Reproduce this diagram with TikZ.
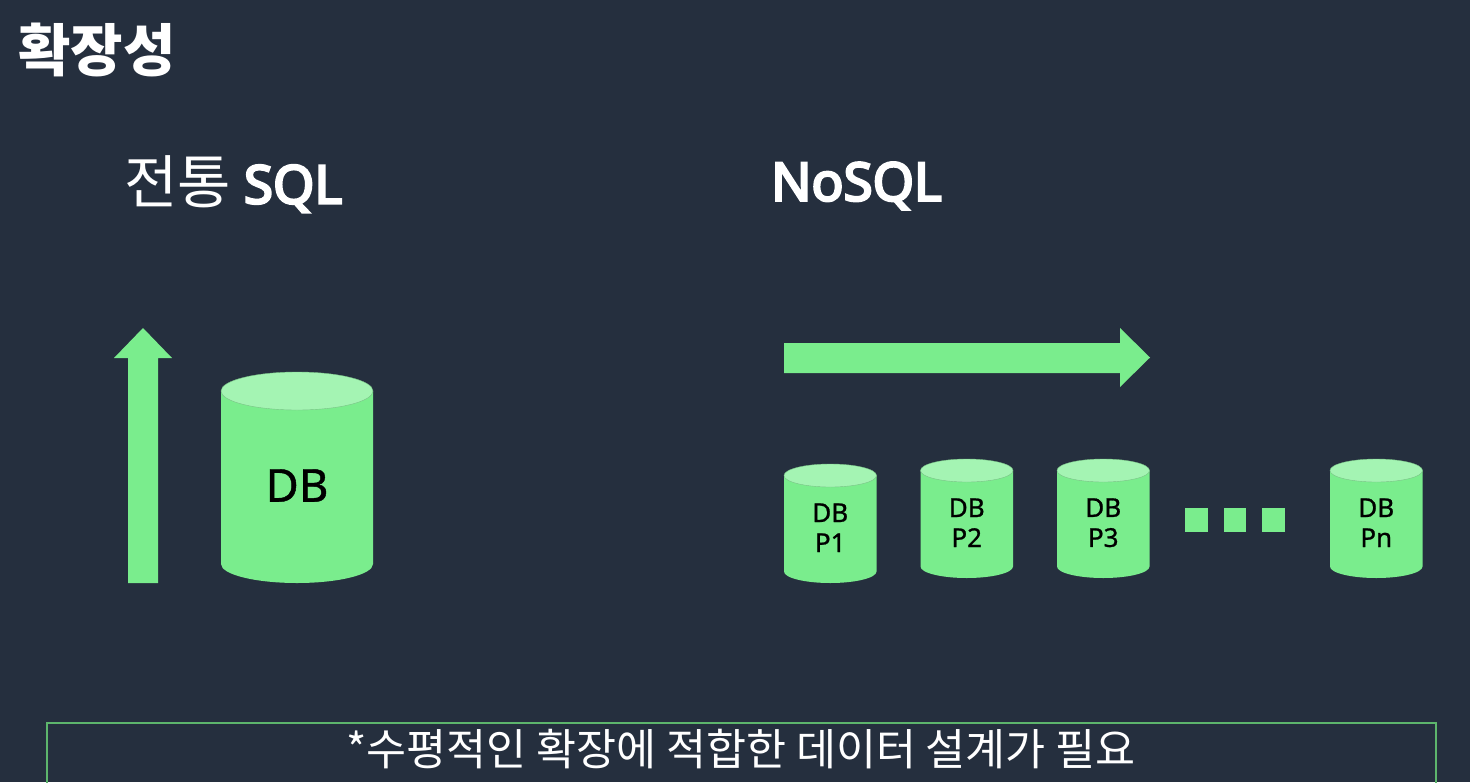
\documentclass[tikz,border=0pt]{standalone}
\usepackage{fontspec}
\setmainfont{Noto Sans CJK KR}
\newfontfamily\latinfont[FakeBold=1]{Noto Sans}
\newfontfamily\latinbold[FakeBold=4.5]{Noto Sans}
\definecolor{bgc}{HTML}{252F3E}
\definecolor{grn}{HTML}{7AED8D}
\definecolor{lgrn}{HTML}{A4F4B3}
\definecolor{edgec}{HTML}{5DB56C}
\newcommand{\dbcyl}[7]{% name, left, right, top, bottom, ry, text
  \fill[grn] (#2,#4+#6) -- (#2,#5-#6) arc[x radius={(#3-#2)/2},y radius=#6,start angle=180,end angle=0] -- (#3,#4+#6) -- cycle;
  \draw[lgrn!70!grn!80!black,line width=0.4pt,fill=lgrn] ({(#2+#3)/2},#4+#6) ellipse[x radius={(#3-#2)/2},y radius=#6];
  \node[#1style,align=center] (#1) at ({(#2+#3)/2},{(#4+#6+#5)/2-1.5}) {#7};}
\begin{document}
\begin{tikzpicture}[x=1pt,y=-1pt,
  bigstyle/.style={text=black,font=\latinfont\fontsize{45.5}{52}\selectfont,inner sep=0pt},
  smallstyle/.style={text=black,font=\latinfont\fontsize{26}{30}\selectfont,inner sep=0pt},
  headtext/.style={text=white,anchor=west,inner sep=0pt},
  sq/.style={fill=grn}]
\useasboundingbox (0,0) rectangle (1470,782);
\fill[bgc] (0,0) rectangle (1470,782);
\node[headtext,font=\fontsize{57}{64}\selectfont\bfseries] (title) at (18,50) {확장성};
\node[headtext,font=\fontsize{58}{64}\selectfont] (sql) at (124,184) {전통 {\latinbold\fontsize{53}{64}\selectfont SQL}};
\node[headtext,font=\latinbold\fontsize{53}{64}\selectfont] (nosql) at (771,186) {NoSQL};
\fill[grn] (128,583) -- (128,358) -- (114,358) -- (143,328) -- (172,358) -- (158,358) -- (158,583) -- cycle;
\fill[grn] (784,343) -- (1120,343) -- (1120,328) -- (1150,357.5) -- (1120,387) -- (1120,373) -- (784,373) -- cycle;
\tikzset{p1style/.style={smallstyle},p2style/.style={smallstyle},p3style/.style={smallstyle},pnstyle/.style={smallstyle}}
\dbcyl{big}{221}{373}{372}{583}{19}{DB}
\dbcyl{p1}{784}{876.5}{464}{583}{11.5}{DB\\P1}
\dbcyl{p2}{920.5}{1013}{459}{578}{11.5}{DB\\P2}
\dbcyl{p3}{1057}{1149.5}{459}{578}{11.5}{DB\\P3}
\dbcyl{pn}{1330}{1422.5}{459}{578}{11.5}{DB\\Pn}
\fill[sq] (1185,508) rectangle (1208,532);
\fill[sq] (1224,508) rectangle (1246,532);
\fill[sq] (1262,508) rectangle (1285,532);
\draw[edgec,line width=1.3pt] (47,790) -- (47,723) -- (1436,723) -- (1436,790);
\node[text=white,inner sep=0pt,font=\fontsize{43.5}{50}\selectfont] (note) at (741,749) {*수평적인 확장에 적합한 데이터 설계가 필요};
\end{tikzpicture}
\end{document}
